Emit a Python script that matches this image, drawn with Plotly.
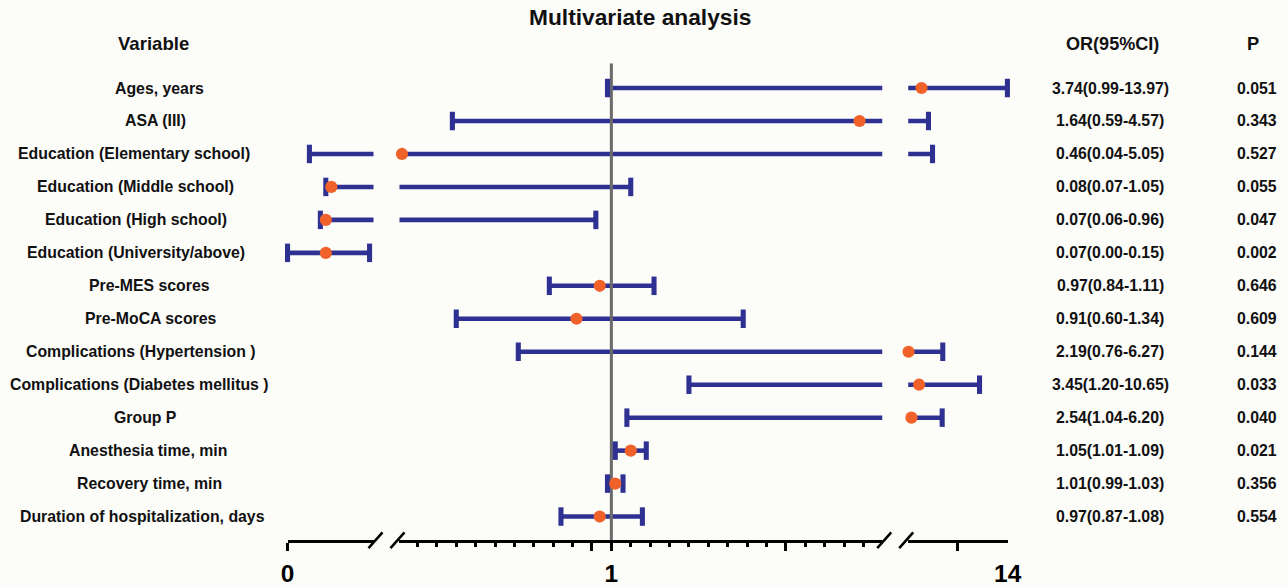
import plotly.graph_objects as go

# ---------------- data ----------------
variables = [
    "Ages, years",
    "ASA (III)",
    "Education (Elementary school)",
    "Education (Middle school)",
    "Education (High school)",
    "Education (University/above)",
    "Pre-MES scores",
    "Pre-MoCA scores",
    "Complications (Hypertension )",
    "Complications (Diabetes mellitus )",
    "Group P",
    "Anesthesia time, min",
    "Recovery time, min",
    "Duration of hospitalization, days",
]
odds_ratio = [3.74, 1.64, 0.46, 0.08, 0.07, 0.07, 0.97, 0.91, 2.19, 3.45, 2.54, 1.05, 1.01, 0.97]
ci_lower = [0.99, 0.59, 0.04, 0.07, 0.06, 0.00, 0.84, 0.60, 0.76, 1.20, 1.04, 1.01, 0.99, 0.87]
ci_upper = [13.97, 4.57, 5.05, 1.05, 0.96, 0.15, 1.11, 1.34, 6.27, 10.65, 6.20, 1.09, 1.03, 1.08]
p_values = ["0.051", "0.343", "0.527", "0.055", "0.047", "0.002", "0.646",
            "0.609", "0.144", "0.033", "0.040", "0.021", "0.356", "0.554"]

# broken x-axis segments (value ranges) and their tick settings
seg_ranges = [(0.0, 0.1572), (0.4536, 1.6985), (2.155, 14.06)]
seg_tickvals = [[0], [0.95, 1, 1.45], [14]]
seg_ticktext = [["0"], ["", "1", ""], ["14"]]

# ---------------- layout constants ----------------
W, H = 1288, 587
# the photographed page is slightly scaled/offset; positions below are in
# picture pixels and converted to paper fractions
S, OX, OY = 0.985, 6.3, 0.9

def px_x(p):
    return (p - OX) / (S * W)

def px_y(p):
    return 1 - (p - OY) / (S * H)

def sz(v):
    return v / S

seg_px = [(287, 373), (399, 882), (908, 1008)]
plot_top, plot_bottom = 65, 548
y_range = [13.72, -0.75]
# horizontal centre (picture px) of each row label, as laid out in the original
label_center_px = [159, 155, 133, 135, 135, 135, 149, 150, 140, 139, 145, 147, 149, 142]

NAVY = "#2E3192"
ORANGE = "#F0622A"
GREY = "#6b6b6b"
BG = "#fcfcf9"
FONT = "Liberation Sans, Arial, Helvetica, sans-serif"

axes = ["x", "x2", "x3"]
rows = list(range(len(variables)))

fig = go.Figure()

# CI lines (clipped by each segment's axis range)
for ax in axes:
    xs, ys = [], []
    for i in rows:
        xs += [ci_lower[i], ci_upper[i], None]
        ys += [i, i, None]
    fig.add_trace(go.Scatter(x=xs, y=ys, mode="lines", xaxis=ax, yaxis="y",
                             line=dict(color=NAVY, width=sz(4.5)), hoverinfo="skip",
                             showlegend=False))

# reference line at OR = 1
fig.add_trace(go.Scatter(x=[1, 1], y=y_range, mode="lines", xaxis="x2", yaxis="y",
                         line=dict(color=GREY, width=sz(3)), hoverinfo="skip",
                         showlegend=False))

def in_seg(v, k):
    lo, hi = seg_ranges[k]
    return lo <= v <= hi

# CI caps
for k, ax in enumerate(axes):
    cx, cy = [], []
    for i in rows:
        for v in (ci_lower[i], ci_upper[i]):
            if in_seg(v, k):
                cx.append(v)
                cy.append(i)
    fig.add_trace(go.Scatter(x=cx, y=cy, mode="markers", xaxis=ax, yaxis="y",
                             marker=dict(symbol="line-ns", size=sz(13),
                                         line=dict(color=NAVY, width=sz(5))),
                             cliponaxis=False, hoverinfo="skip", showlegend=False))

# OR points
for k, ax in enumerate(axes):
    px_, py_ = [], []
    for i in rows:
        if in_seg(odds_ratio[i], k):
            px_.append(odds_ratio[i])
            py_.append(i)
    fig.add_trace(go.Scatter(x=px_, y=py_, mode="markers", xaxis=ax, yaxis="y",
                             marker=dict(color=ORANGE, size=sz(12), line=dict(width=0)),
                             cliponaxis=False, showlegend=False))

# axes
tick_font = dict(family=FONT, size=sz(24), color="black", weight="bold")
for k, ax in enumerate(axes):
    name = "xaxis" if k == 0 else f"xaxis{k + 1}"
    cfg = dict(
        domain=[px_x(seg_px[k][0]), px_x(seg_px[k][1])],
        range=list(seg_ranges[k]),
        anchor="y",
        showline=True, linecolor="black", linewidth=sz(2.5),
        showgrid=False, zeroline=False,
        ticks="outside", ticklen=sz(8), tickwidth=sz(2.5), tickcolor="black",
        tickvals=seg_tickvals[k], ticktext=seg_ticktext[k],
        tickfont=tick_font, ticklabelstandoff=2,
        fixedrange=True,
    )
    if k == 1:
        cfg["minor"] = dict(ticks="outside", ticklen=sz(4), tickwidth=sz(2.5),
                            tickcolor="black", tick0=0.5, dtick=0.05, showgrid=False)
    if k == 2:
        cfg["tickcolor"] = BG
        cfg["minor"] = dict(ticks="outside", ticklen=sz(8), tickwidth=sz(2.5),
                            tickcolor="black", tickvals=[8], showgrid=False)
    fig.layout[name] = cfg

fig.update_layout(
    yaxis=dict(domain=[px_y(plot_bottom), px_y(plot_top)], range=y_range,
               visible=False, anchor="x", fixedrange=True),
    width=W, height=H,
    margin=dict(l=0, r=0, t=0, b=0),
    paper_bgcolor=BG, plot_bgcolor=BG,
    showlegend=False,
)

# axis-break slashes
shapes = []
for cx in (375, 397, 884, 906):
    shapes.append(dict(type="line", xref="paper", yref="paper",
                       x0=px_x(cx - 7), x1=px_x(cx + 7),
                       y0=px_y(plot_bottom + 8), y1=px_y(plot_bottom - 8),
                       line=dict(color="black", width=sz(2.5))))
fig.update_layout(shapes=shapes)

# text
ann = []
lab_font = dict(family=FONT, size=sz(15.6), color="#111111", weight="bold")
for i in rows:
    ann.append(dict(x=px_x(label_center_px[i]), y=i, xref="paper", yref="y",
                    text=variables[i], showarrow=False,
                    xanchor="center", yanchor="middle", font=lab_font))
    ann.append(dict(x=px_x(1110), y=i, xref="paper", yref="y",
                    text=f"{odds_ratio[i]:.2f}({ci_lower[i]:.2f}-{ci_upper[i]:.2f})",
                    showarrow=False, xanchor="center", yanchor="middle", font=lab_font))
    ann.append(dict(x=px_x(1257), y=i, xref="paper", yref="y", text=p_values[i],
                    showarrow=False, xanchor="center", yanchor="middle", font=lab_font))

ann.append(dict(x=px_x(153), y=px_y(45), xref="paper", yref="paper", text="Variable",
                showarrow=False, xanchor="center", yanchor="middle",
                font=dict(family=FONT, size=sz(18.3), color="#111111", weight="bold")))
ann.append(dict(x=px_x(1112), y=px_y(45), xref="paper", yref="paper", text="OR(95%CI)",
                showarrow=False, xanchor="center", yanchor="middle",
                font=dict(family=FONT, size=sz(17.8), color="#111111", weight="bold")))
ann.append(dict(x=px_x(1253), y=px_y(45), xref="paper", yref="paper", text="P",
                showarrow=False, xanchor="center", yanchor="middle",
                font=dict(family=FONT, size=sz(18), color="#111111", weight="bold")))
ann.append(dict(x=px_x(640), y=px_y(18), xref="paper", yref="paper",
                text="Multivariate analysis", showarrow=False,
                xanchor="center", yanchor="middle",
                font=dict(family=FONT, size=sz(22.4), color="#111111", weight="bold")))
fig.update_layout(annotations=ann)

fig.write_html(
    "out.html",
    config={"displayModeBar": False},
    post_script="document.body.style.margin='0px';document.body.style.padding='0px';"
                "document.body.style.overflow='hidden';"
                "document.body.style.background='" + BG + "';"
                "document.documentElement.style.background='" + BG + "';",
)
